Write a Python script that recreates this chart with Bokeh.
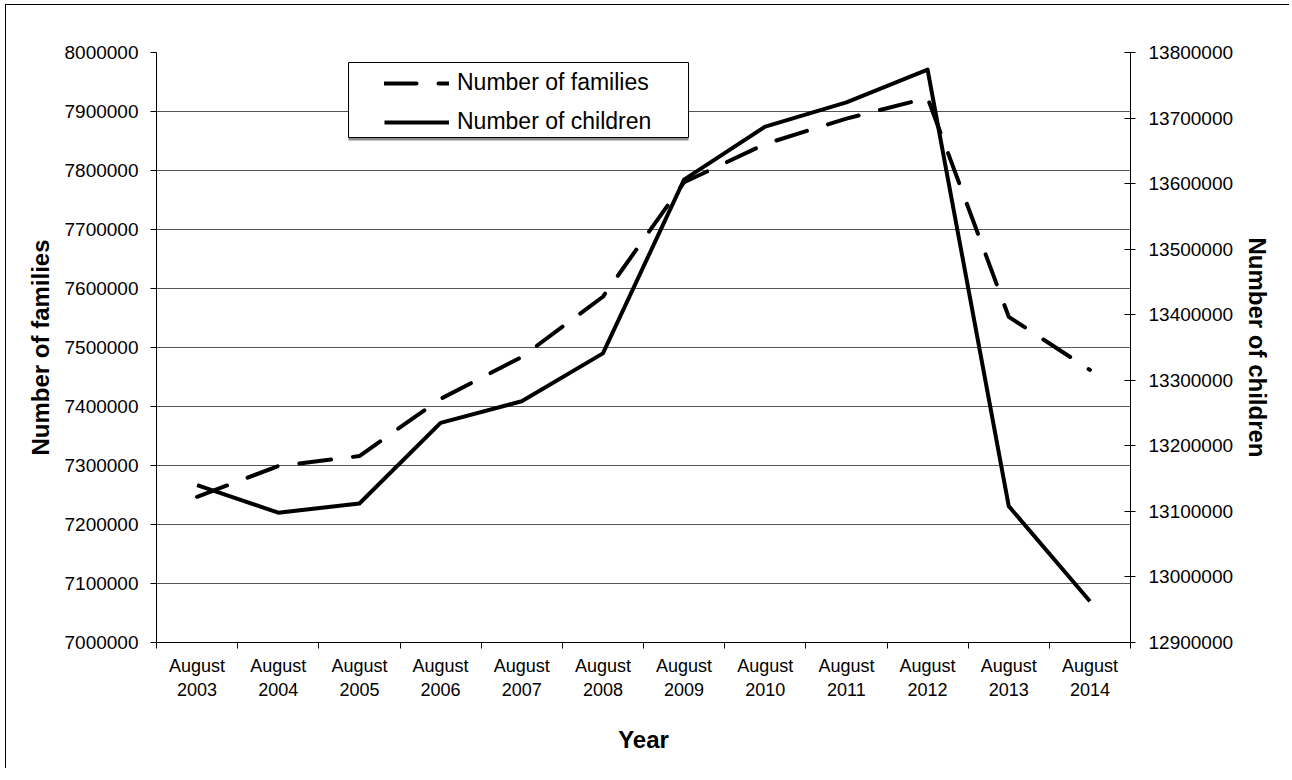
from bokeh.plotting import figure
from bokeh.models import (Range1d, LinearAxis, FixedTicker, BasicTickFormatter,
                          Legend, LegendItem, BoxAnnotation)
from bokeh.embed import file_html
from bokeh.resources import INLINE

# ---- data ----
month = "August"
years = ["2003", "2004", "2005", "2006", "2007", "2008",
         "2009", "2010", "2011", "2012", "2013", "2014"]
families = [7247000, 7299000, 7316000, 7413000, 7484000, 7586000,
            7780000, 7845000, 7888000, 7923000, 7552000, 7462000]
children = [13140000, 13098000, 13112000, 13235000, 13268000, 13341000,
            13606000, 13687000, 13724000, 13774000, 13108000, 12963000]
family_ticks = [7000000, 7100000, 7200000, 7300000, 7400000, 7500000,
                7600000, 7700000, 7800000, 7900000, 8000000]
children_ticks = [12900000, 13000000, 13100000, 13200000, 13300000,
                  13400000, 13500000, 13600000, 13700000, 13800000]

FONT = "Liberation Sans"

n = len(years)
xpos = [i + 0.5 for i in range(n)]
bounds = list(range(n + 1))

p = figure(width=1284, height=764, output_backend="svg", toolbar_location=None,
           x_range=Range1d(0, n), y_range=Range1d(family_ticks[0], family_ticks[-1]),
           min_border_left=150, min_border_right=160,
           min_border_top=47, min_border_bottom=127)
p.extra_y_ranges = {"children": Range1d(children_ticks[0], children_ticks[-1])}
p.outline_line_color = None
p.background_fill_color = "white"
p.border_fill_color = "white"
p.styles = {"border-left": "1px solid black", "border-top": "1px solid black",
            "margin-left": "5px", "margin-top": "4px"}

# grid
p.xgrid.visible = False
p.ygrid.ticker = FixedTicker(ticks=family_ticks)
p.ygrid.grid_line_color = "#555555"
p.ygrid.grid_line_width = 1

# x axis
xa = p.xaxis[0]
xa.ticker = FixedTicker(ticks=xpos, minor_ticks=bounds)
xa.major_label_overrides = {x: f"{month}\n{y}" for x, y in zip(xpos, years)}
xa.major_tick_out = 0
xa.major_tick_in = 0
xa.minor_tick_out = 6
xa.minor_tick_in = 0
xa.minor_tick_line_color = "black"
xa.axis_line_color = "black"
xa.major_label_text_font = FONT
xa.major_label_text_font_size = "18px"
xa.major_label_text_color = "black"
xa.major_label_standoff = 7
xa.axis_label = "Year"
xa.axis_label_text_font = FONT
xa.axis_label_text_font_size = "24px"
xa.axis_label_text_font_style = "bold"
xa.axis_label_text_color = "black"
xa.axis_label_standoff = 23

# left axis
ya = p.yaxis[0]
ya.ticker = FixedTicker(ticks=family_ticks)
ya.formatter = BasicTickFormatter(use_scientific=False)
ya.major_tick_out = 6
ya.major_tick_in = 0
ya.minor_tick_out = 0
ya.minor_tick_in = 0
ya.axis_line_color = "black"
ya.major_tick_line_color = "black"
ya.major_label_text_font = FONT
ya.major_label_text_font_size = "19px"
ya.major_label_text_color = "black"
ya.major_label_standoff = 12
ya.axis_label = "Number of families"
ya.axis_label_text_font = FONT
ya.axis_label_text_font_size = "24px"
ya.axis_label_text_font_style = "bold"
ya.axis_label_text_color = "black"
ya.axis_label_standoff = 8

# right axis
ra = LinearAxis(y_range_name="children", ticker=FixedTicker(ticks=children_ticks),
                formatter=BasicTickFormatter(use_scientific=False))
ra.major_tick_out = 5
ra.major_tick_in = 6
ra.minor_tick_out = 0
ra.minor_tick_in = 0
ra.axis_line_color = "black"
ra.major_tick_line_color = "black"
ra.major_label_text_font = FONT
ra.major_label_text_font_size = "19px"
ra.major_label_text_color = "black"
ra.major_label_standoff = 13
ra.axis_label = "Number of children"
ra.axis_label_text_font = FONT
ra.axis_label_text_font_size = "24px"
ra.axis_label_text_font_style = "bold"
ra.axis_label_text_color = "black"
ra.axis_label_standoff = 8
p.add_layout(ra, "right")

# lines
r_fam = p.line(xpos, families, line_color="black", line_width=4,
               line_dash="32 22", line_cap="round", line_join="round")
r_chi = p.line(xpos, children, line_color="black", line_width=4,
               line_join="round", y_range_name="children")

# legend box (frame-relative screen units)
shadow = BoxAnnotation(left=192, right=532, top=577, bottom=502,
                       left_units="screen", right_units="screen",
                       top_units="screen", bottom_units="screen",
                       fill_color="#8c8c8c", fill_alpha=1, line_color=None)
box = BoxAnnotation(left=192, right=532, top=580, bottom=505,
                    left_units="screen", right_units="screen",
                    top_units="screen", bottom_units="screen",
                    fill_color="white", fill_alpha=1,
                    line_color="black", line_width=1, line_alpha=1)
p.add_layout(shadow)
p.add_layout(box)

legend = Legend(items=[LegendItem(label="Number of families", renderers=[r_fam]),
                       LegendItem(label="Number of children", renderers=[r_chi])],
                location=(228, 507), padding=0, margin=0, spacing=12,
                glyph_width=65, glyph_height=26, label_height=26,
                label_standoff=8, label_text_font=FONT,
                label_text_font_size="23px", label_text_color="black",
                border_line_color=None, background_fill_alpha=0)
p.add_layout(legend)

open("out.html", "w").write(file_html(p, INLINE))
